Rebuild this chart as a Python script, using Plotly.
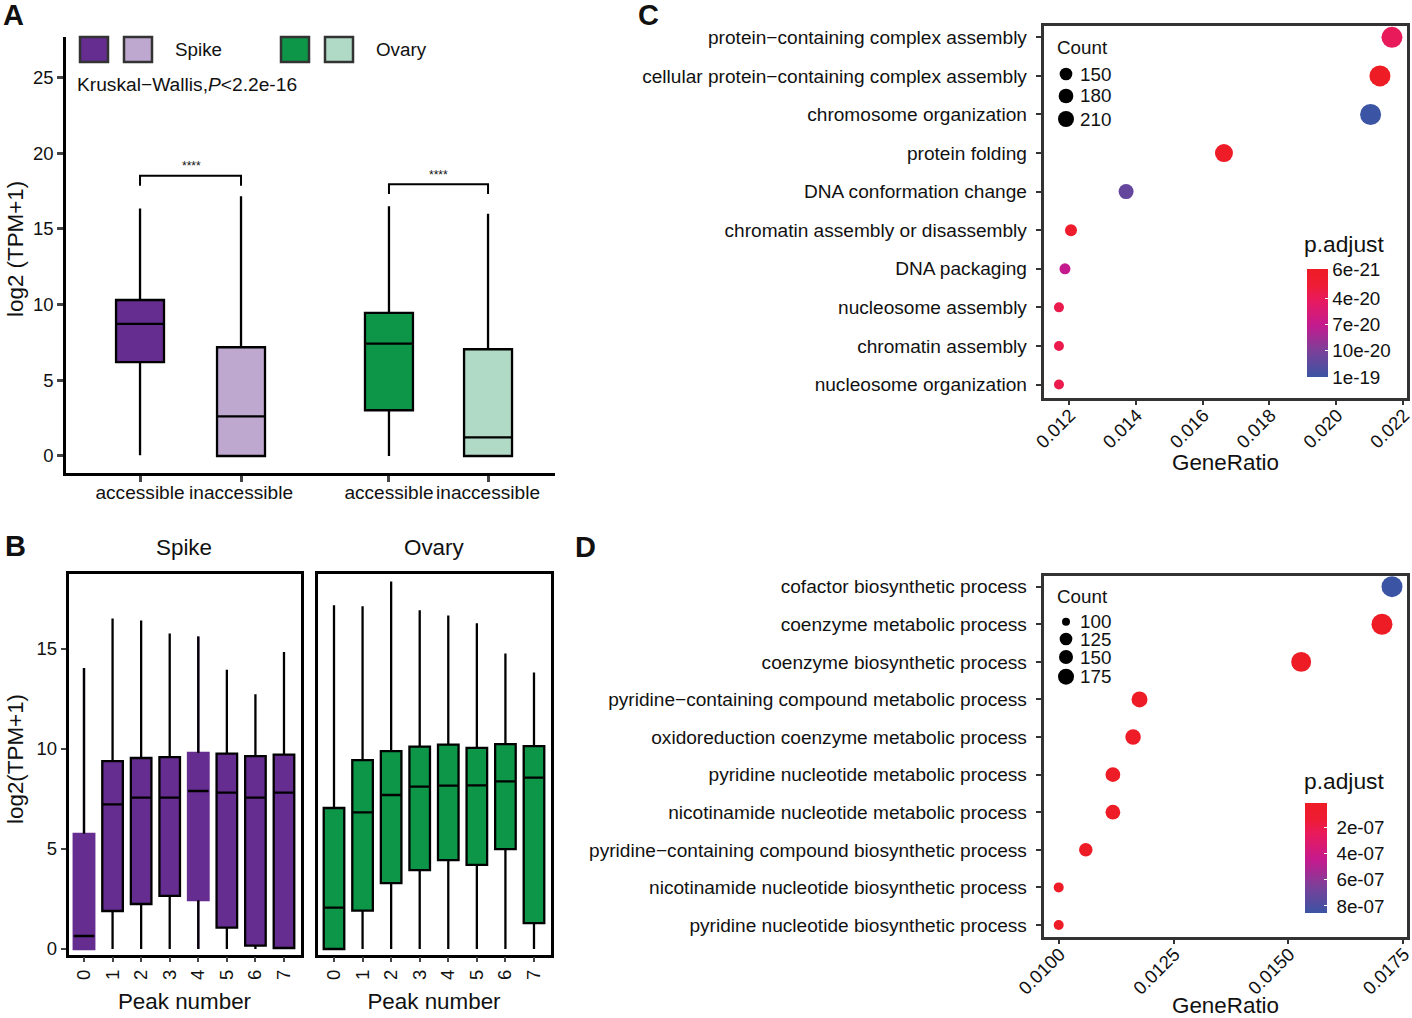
import numpy as np
import plotly.graph_objects as go

W, H = 1412, 1018

# panel A
a_pos = [1, 2, 3.465, 4.446]
a_labels = ["accessible", "inaccessible", "accessible", "inaccessible"]
a_low = [0.05, 0, 0, 0]
a_q1 = [6.2, 0, 3.02, 0]
a_med = [8.72, 2.62, 7.42, 1.23]
a_q3 = [10.3, 7.18, 9.45, 7.05]
a_high = [16.35, 17.15, 16.5, 16.0]

# panel B
peaks = [0, 1, 2, 3, 4, 5, 6, 7]
spike_q1 = [0, 1.9, 2.25, 2.66, 2.44, 1.07, 0.17, 0.05]
spike_med = [0.65, 7.23, 7.57, 7.57, 7.9, 7.82, 7.57, 7.82]
spike_q3 = [5.76, 9.39, 9.55, 9.59, 9.8, 9.77, 9.64, 9.72]
spike_high = [14.05, 16.52, 16.43, 15.78, 15.62, 13.96, 12.74, 14.85]
ovary_q1 = [0, 1.92, 3.29, 3.94, 4.44, 4.21, 4.99, 1.29]
ovary_med = [2.07, 6.83, 7.7, 8.12, 8.17, 8.18, 8.38, 8.57]
ovary_q3 = [7.05, 9.44, 9.89, 10.12, 10.22, 10.06, 10.24, 10.14]
ovary_high = [17.19, 17.14, 18.37, 16.94, 16.67, 16.29, 14.78, 13.83]
low_all = [0, 0, 0, 0, 0, 0, 0, 0]

# panel C
c_terms = ["protein−containing complex assembly", "cellular protein−containing complex assembly",
           "chromosome organization", "protein folding", "DNA conformation change",
           "chromatin assembly or disassembly", "DNA packaging", "nucleosome assembly",
           "chromatin assembly", "nucleosome organization"]
c_ratio = [0.02167, 0.02131, 0.02103, 0.01664, 0.01371, 0.01206, 0.01188, 0.0117, 0.0117, 0.0117]
c_count = [240, 240, 240, 210, 180, 150, 140, 130, 130, 130]
c_padj = [4e-20, 6e-21, 1.3e-19, 8e-21, 1.11e-19, 1.5e-20, 7e-20, 3.5e-20, 3.5e-20, 3.5e-20]

# panel D
d_terms = ["cofactor biosynthetic process", "coenzyme metabolic process", "coenzyme biosynthetic process",
           "pyridine−containing compound metabolic process", "oxidoreduction coenzyme metabolic process",
           "pyridine nucleotide metabolic process", "nicotinamide nucleotide metabolic process",
           "pyridine−containing compound biosynthetic process", "nicotinamide nucleotide biosynthetic process",
           "pyridine nucleotide biosynthetic process"]
d_ratio = [0.017258, 0.01704, 0.01528, 0.01176, 0.01162, 0.01118, 0.01118, 0.01059, 0.0100, 0.0100]
d_count = [172, 172, 165, 139, 136, 131, 131, 123, 100, 100]
d_padj = [8.54e-7, 1.2e-8, 1.2e-8, 1.5e-8, 1.5e-8, 1.5e-8, 1.5e-8, 1.5e-8, 1.5e-8, 1.5e-8]

PURPLE, LILAC, GREEN, MINT = "#662d91", "#bfa8cf", "#0d9648", "#b0dac5"
FONT = "Liberation Sans"
# runs blue to red because p.adjust is plotted negated, so that the colorbar has the small values on top
br = [[0, "#3b54a4"], [0.24, "#7b4099"], [0.48, "#c41a8e"], [0.72, "#e91a5c"], [0.85, "#ee1c34"], [1, "#ee1c25"]]


def px(x):
    return x / W


def py(y):
    return 1 - y / H


fig = go.Figure()


def add_box(x, low, q1, med, q3, high, color, width, xa, ya, line="black"):
    fig.add_trace(go.Box(x=[x], lowerfence=[low], q1=[q1], median=[med], q3=[q3], upperfence=[high],
                         width=width, whiskerwidth=0, fillcolor=color, line=dict(color=line, width=2.3),
                         boxpoints=False, xaxis=xa, yaxis=ya, showlegend=False))


for i in range(4):
    add_box(a_pos[i], a_low[i], a_q1[i], a_med[i], a_q3[i], a_high[i],
            [PURPLE, LILAC, GREEN, MINT][i], 0.475, "x", "y")

# brackets over the pairs
fig.add_trace(go.Scatter(x=[a_pos[0], a_pos[0], a_pos[1], a_pos[1]], y=[17.85, 18.5, 18.5, 17.85], mode="lines",
                         line=dict(color="black", width=2), xaxis="x", yaxis="y", showlegend=False))
fig.add_trace(go.Scatter(x=[a_pos[2], a_pos[2], a_pos[3], a_pos[3]], y=[17.3, 17.95, 17.95, 17.3], mode="lines",
                         line=dict(color="black", width=2), xaxis="x", yaxis="y", showlegend=False))

# spike peaks 0 and 4 have no outline in the original
for i in peaks:
    if i in (0, 4):
        add_box(i, low_all[i], spike_q1[i], spike_med[i], spike_q3[i], spike_high[i], PURPLE, 0.72, "x2", "y2", PURPLE)
        fig.add_trace(go.Scatter(x=[i, i, None, i, i, None, i - 0.36, i + 0.36],
                                 y=[low_all[i], spike_q1[i], None, spike_q3[i], spike_high[i], None, spike_med[i], spike_med[i]],
                                 mode="lines", line=dict(color="black", width=2.3), xaxis="x2", yaxis="y2", showlegend=False))
    else:
        add_box(i, low_all[i], spike_q1[i], spike_med[i], spike_q3[i], spike_high[i], PURPLE, 0.72, "x2", "y2")
    add_box(i, low_all[i], ovary_q1[i], ovary_med[i], ovary_q3[i], ovary_high[i], GREEN, 0.72, "x3", "y3")

c_size = [10 + (c - 130) * 0.1 for c in c_count]
fig.add_trace(go.Scatter(x=c_ratio, y=c_terms, mode="markers", xaxis="x4", yaxis="y4", showlegend=False,
                         marker=dict(size=c_size, color=[-p for p in c_padj], colorscale=br, cmin=-1.3e-19, cmax=-6e-21,
                                     opacity=1, line_width=0,
                                     colorbar=dict(x=px(1306.5), xanchor="left", y=py(269), yanchor="top", thickness=21,
                                                   thicknessmode="pixels", len=108, lenmode="pixels", xpad=0, ypad=0,
                                                   outlinewidth=0, ticks="inside", tickcolor="white", ticklen=3, tickwidth=1,
                                                   tickvals=[-6e-21, -4e-20, -7e-20, -10e-20, -13e-20],
                                                   ticktext=["6e-21", "4e-20", "7e-20", "10e-20", "1e-19"],
                                                   tickfont=dict(family=FONT, size=18.8, color="#111")))))

d_size = [10 + (c - 100) * 0.1528 for c in d_count]
fig.add_trace(go.Scatter(x=d_ratio, y=d_terms, mode="markers", xaxis="x5", yaxis="y5", showlegend=False,
                         marker=dict(size=d_size, color=[-p for p in d_padj], colorscale=br, cmin=-8.54e-7, cmax=-1e-8,
                                     opacity=1, line_width=0,
                                     colorbar=dict(x=px(1305), xanchor="left", y=py(803), yanchor="top", thickness=21.5,
                                                   thicknessmode="pixels", len=110, lenmode="pixels", xpad=0, ypad=0,
                                                   outlinewidth=0, ticks="inside", tickcolor="white", ticklen=3, tickwidth=1,
                                                   tickvals=[-2e-7, -4e-7, -6e-7, -8e-7],
                                                   ticktext=["&nbsp;2e-07", "&nbsp;4e-07", "&nbsp;6e-07", "&nbsp;8e-07"],
                                                   tickfont=dict(family=FONT, size=18.8, color="#111")))))

tick_font = dict(family=FONT, size=18.5, color="#111")
term_font = dict(family=FONT, size=19.1, color="#111")
title_font = dict(family=FONT, size=22.4, color="#111")

layout = dict(
    width=W, height=H, margin=dict(l=0, r=0, t=0, b=0, autoexpand=False),
    paper_bgcolor="white", plot_bgcolor="white", boxmode="overlay", showlegend=False, font=dict(family=FONT),
    xaxis=dict(domain=[px(66), px(555)], range=[0.267, 5.109], tickvals=a_pos, ticktext=a_labels, showgrid=False, zeroline=False,
               showline=True, linecolor="black", linewidth=2.5, ticks="outside", ticklen=6, tickwidth=2.5, tickfont=term_font,
               ticklabelstandoff=-6, anchor="y"),
    yaxis=dict(domain=[py(473), py(37)], range=[-1.124, 27.67], tickvals=[0, 5, 10, 15, 20, 25], showgrid=False, zeroline=False,
               showline=True, linecolor="black", linewidth=2.5, ticks="outside", ticklen=6, tickwidth=2.5, tickfont=tick_font, anchor="x"),
)
for n, left, right, xr in ((2, 68.5, 300.5, [-0.5425, 7.578]), (3, 317.5, 550.5, [-0.5775, 7.578])):
    layout[f"xaxis{n}"] = dict(domain=[px(left), px(right)], range=xr, tickvals=peaks, tickangle=-90, showgrid=False, zeroline=False,
                               showline=True, mirror=True, linecolor="black", linewidth=2.5, ticks="outside", ticklen=5, tickwidth=2,
                               tickfont=tick_font, title=dict(text="Peak number", font=title_font, standoff=15), anchor=f"y{n}")
    layout[f"yaxis{n}"] = dict(domain=[py(954.5), py(573.5)], range=[-0.275, 18.775], tickvals=[0, 5, 10, 15], showgrid=False, zeroline=False,
                               showline=True, mirror=True, linecolor="black", linewidth=2.5, ticks="outside" if n == 2 else "",
                               ticklen=5, tickwidth=2, showticklabels=n == 2, tickfont=tick_font, anchor=f"x{n}")

dark = "#333333"
ratio_axis = dict(tickangle=-45, showgrid=False, zeroline=False, showline=True, mirror=True, linecolor=dark, linewidth=2.5,
                  ticks="outside", ticklen=5, tickwidth=2, tickcolor=dark, tickfont=tick_font,
                  ticklabeloverflow="allow", ticklabelstandoff=-8, ticklabelshift=1)
term_axis = dict(type="category", categoryorder="array", showgrid=False, zeroline=False, showline=True, mirror=True,
                 linecolor=dark, linewidth=2.5, ticks="outside", ticklen=5, tickwidth=2, tickcolor=dark, tickfont=term_font,
                 ticklabelstandoff=5)
layout["xaxis4"] = dict(domain=[px(1043.5), px(1406.5)], range=[0.011237, 0.022105], tickvals=[0.012, 0.014, 0.016, 0.018, 0.020, 0.022],
                        tickformat=".3f", anchor="y4", **ratio_axis)
layout["yaxis4"] = dict(domain=[py(397.5), py(25.5)], categoryarray=c_terms[::-1], range=[-0.337, 9.306], anchor="x4", **term_axis)
layout["xaxis5"] = dict(domain=[px(1043.5), px(1406.5)], range=[0.009669, 0.017574], tickvals=[0.01, 0.0125, 0.015, 0.0175],
                        tickformat=".4f", anchor="y5", **ratio_axis)
layout["yaxis5"] = dict(domain=[py(936.5), py(575.5)], categoryarray=d_terms[::-1], range=[-0.306, 9.298], anchor="x5", **term_axis)
fig.update_layout(**layout)


def note(text, x, y, size=18.8, anchor="left", weight=None, angle=0):
    if weight:
        text = f"<b>{text}</b>"
    fig.add_annotation(text=text, x=px(x), y=py(y), xref="paper", yref="paper", showarrow=False, xanchor=anchor, yanchor="middle",
                       font=dict(family=FONT, size=size, color="#111"), borderpad=0, borderwidth=0, textangle=angle)


for letter, x, y in (("A", 3, 15), ("B", 5, 546), ("C", 638, 15), ("D", 575, 547)):
    note(letter, x, y, 29, weight=True)

note("Spike", 175, 50)
note("Ovary", 376, 50)
note("Kruskal−Wallis,<i>P</i>&lt;2.2e-16", 77, 85, 19.2)
note("****", 191, 166, 12, "center")
note("****", 438, 175, 12, "center")
note("Spike", 184, 547.5, 22.4, "center")
note("Ovary", 434, 547.5, 22.4, "center")
note("Count", 1057, 48)
note("Count", 1057, 596)
note("p.adjust", 1304, 244, 22.8)
note("p.adjust", 1304, 781, 22.8)
note("log2 (TPM+1)", 15, 249, 22.4, "center", angle=-90)
note("log2(TPM+1)", 15, 759, 22.4, "center", angle=-90)
note("GeneRatio", 1225, 462, 22.4, "center")
note("GeneRatio", 1225, 1005, 22.4, "center")

# legend swatches for panel A
for x0, color in ((80, PURPLE), (124, LILAC), (281, GREEN), (325, MINT)):
    fig.add_shape(type="rect", xref="paper", yref="paper", x0=px(x0), x1=px(x0 + 28), y0=py(62), y1=py(37),
                  fillcolor=color, line=dict(color=dark, width=2.5))

# count legends
count_keys = [(["150", "180", "210"], [74, 96, 119], [12.7, 14.7, 16]),
              (["100", "125", "150", "175"], [621.7, 639, 657, 676.7], [8, 12.7, 14, 16])]
for labels, ys, sizes in count_keys:
    for lab, y, s in zip(labels, ys, sizes):
        fig.add_shape(type="circle", xref="paper", yref="paper", x0=px(1066 - s / 2), x1=px(1066 + s / 2),
                      y0=py(y + s / 2), y1=py(y - s / 2), fillcolor="black", line_width=0)
        note(lab, 1111, y, anchor="right")

fig.write_html("out.html", config={"displayModeBar": False},
               post_script="document.body.style.margin='0';document.body.style.overflow='hidden';")
